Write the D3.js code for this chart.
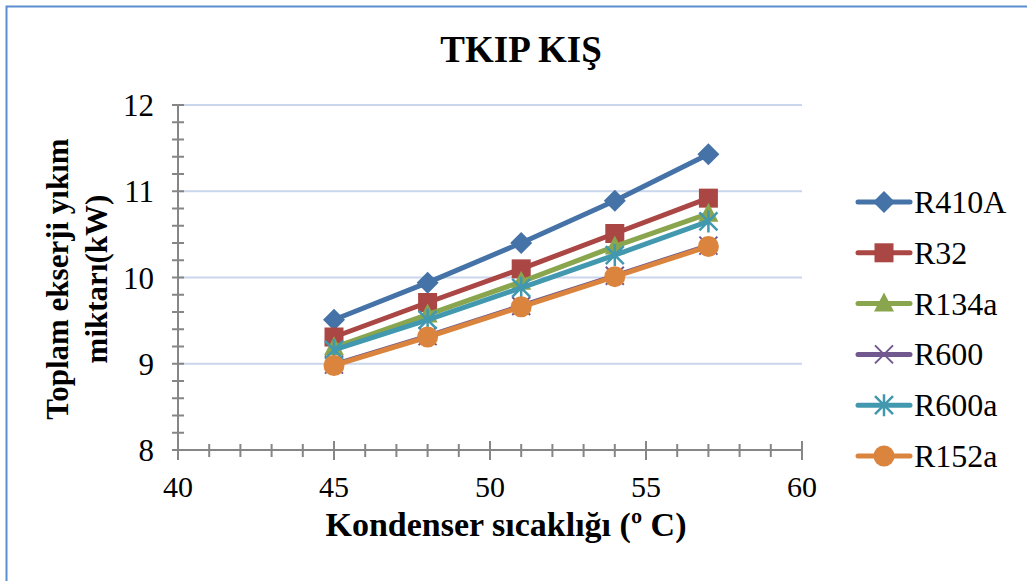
<!DOCTYPE html>
<html>
<head>
<meta charset="utf-8">
<script src="https://cdn.jsdelivr.net/npm/d3@7.9.0/dist/d3.min.js"></script>
<style>
  body { margin: 0; background: #fff; }
  svg { display: block; font-family: "Liberation Serif", "Times New Roman", serif; }
</style>
</head>
<body>
<svg id="chart" width="1027" height="581"></svg>
<script>
const temps = [45, 48, 51, 54, 57];
const seriesNames = ["R410A", "R32", "R134a", "R600", "R600a", "R152a"];
const r410a = [9.51, 9.94, 10.40, 10.89, 11.43];
const r32 = [9.31, 9.71, 10.10, 10.51, 10.92];
const r134a = [9.19, 9.57, 9.95, 10.36, 10.74];
const r600 = [8.99, 9.32, 9.67, 10.02, 10.37];
const r600a = [9.16, 9.51, 9.88, 10.26, 10.65];
const r152a = [8.98, 9.31, 9.66, 10.01, 10.36];
const xTicks = [40, 45, 50, 55, 60];
const yTicks = [8, 9, 10, 11, 12];

const values = [r410a, r32, r134a, r600, r600a, r152a];
const colors = ["#4572A7", "#AA4643", "#89A54E", "#71588F", "#4198AF", "#DB843D"];
const markers = ["diamond", "square", "triangle", "x", "star", "circle"];

const svg = d3.select("#chart");
const area = { left: 178, right: 802, top: 105, bottom: 450 };

const x = d3.scaleLinear().domain([40, 60]).range([area.left, area.right]);
const y = d3.scaleLinear().domain([8, 12]).range([area.bottom, area.top]);

// outer frame
svg.append("rect")
  .attr("x", 6.5).attr("y", 6.5)
  .attr("width", 1040).attr("height", 600)
  .attr("fill", "none")
  .attr("stroke", "#5b8ed0")
  .attr("stroke-width", 2);

// title
svg.append("text")
  .attr("x", 521).attr("y", 62)
  .attr("text-anchor", "middle")
  .style("font-size", "37px").style("font-weight", "bold")
  .text("TKIP KIŞ");

// gridlines
svg.append("g")
  .selectAll("line")
  .data(yTicks.filter((d) => d > 8))
  .join("line")
  .attr("x1", area.left).attr("x2", area.right)
  .attr("y1", (d) => y(d)).attr("y2", (d) => y(d))
  .attr("stroke", "#c9d6ec").attr("stroke-width", 2);

// y axis with cross ticks
const yMinor = d3.range(8, 12.0001, 0.2);
const yAxis = svg.append("g").attr("stroke", "#868686").attr("stroke-width", 2);
yAxis.append("line")
  .attr("x1", area.left).attr("x2", area.left)
  .attr("y1", area.top).attr("y2", area.bottom);
yAxis.selectAll(".tk")
  .data(yMinor)
  .join("line")
  .attr("class", "tk")
  .attr("x1", area.left - 6).attr("x2", area.left + 6)
  .attr("y1", (d) => y(d)).attr("y2", (d) => y(d));

// x axis with cross ticks
const xMinor = d3.range(40, 60.0001, 1);
const xAxis = svg.append("g").attr("stroke", "#868686").attr("stroke-width", 2);
xAxis.append("line")
  .attr("x1", area.left).attr("x2", area.right)
  .attr("y1", area.bottom).attr("y2", area.bottom);
xAxis.selectAll(".tk")
  .data(xMinor)
  .join("line")
  .attr("class", "tk")
  .attr("x1", (d) => x(d)).attr("x2", (d) => x(d))
  .attr("y1", (d) => area.bottom - (d % 5 === 0 ? 9 : 6))
  .attr("y2", (d) => area.bottom + (d % 5 === 0 ? 10 : 7));

// tick labels
svg.append("g")
  .selectAll("text")
  .data(yTicks)
  .join("text")
  .attr("x", 154).attr("y", (d) => y(d) + 11)
  .attr("text-anchor", "end")
  .style("font-size", "31px")
  .text((d) => d);

svg.append("g")
  .selectAll("text")
  .data(xTicks)
  .join("text")
  .attr("x", (d) => x(d)).attr("y", 497)
  .attr("text-anchor", "middle")
  .style("font-size", "30px")
  .text((d) => d);

// axis titles
svg.append("text")
  .attr("x", 506).attr("y", 536)
  .attr("text-anchor", "middle")
  .style("font-size", "34px").style("font-weight", "bold")
  .text("Kondenser sıcaklığı (º C)");

const yTitle = svg.append("text")
  .attr("transform", "translate(0,279) rotate(-90)")
  .attr("text-anchor", "middle")
  .style("font-size", "31px").style("font-weight", "bold");
yTitle.append("tspan").attr("x", 0).attr("y", 68).text("Toplam ekserji yıkım");
yTitle.append("tspan").attr("x", 0).attr("y", 107).text("miktarı(kW)");

// markers
function drawMarker(g, type, color) {
  if (type === "diamond") {
    g.append("path").attr("d", "M0,-11L11,0L0,11L-11,0Z").attr("fill", color);
  } else if (type === "square") {
    g.append("rect").attr("x", -9.5).attr("y", -9.5).attr("width", 19).attr("height", 19).attr("fill", color);
  } else if (type === "triangle") {
    g.append("path").attr("d", "M0,-11L10,8L-10,8Z").attr("fill", color);
  } else if (type === "x") {
    g.append("path").attr("d", "M-9,-9L9,9M9,-9L-9,9").attr("stroke", color).attr("stroke-width", 2);
  } else if (type === "star") {
    g.append("path").attr("d", "M-9,-9L9,9M9,-9L-9,9M0,-11L0,11").attr("stroke", color).attr("stroke-width", 2.5);
  } else if (type === "circle") {
    g.append("circle").attr("r", 10.5).attr("fill", color);
  }
}

const line = d3.line().x((d) => x(d[0])).y((d) => y(d[1]));

values.forEach((vals, i) => {
  const pts = temps.map((t, j) => [t, vals[j]]);
  const g = svg.append("g").attr("class", "series");
  g.append("path")
    .attr("d", line(pts))
    .attr("fill", "none")
    .attr("stroke", colors[i])
    .attr("stroke-width", 5)
    .attr("stroke-linejoin", "round");
  pts.forEach((p) => {
    const m = g.append("g").attr("transform", `translate(${x(p[0])},${y(p[1])})`);
    drawMarker(m, markers[i], colors[i]);
  });
});

// legend
const legend = svg.append("g");
seriesNames.forEach((name, i) => {
  const ly = 202 + i * 50.8;
  const lg = legend.append("g");
  lg.append("line")
    .attr("x1", 858).attr("x2", 910)
    .attr("y1", ly).attr("y2", ly)
    .attr("stroke", colors[i]).attr("stroke-width", 5)
    .attr("stroke-linecap", "round");
  const m = lg.append("g").attr("transform", `translate(884,${ly})`);
  drawMarker(m, markers[i], colors[i]);
  lg.append("text")
    .attr("x", 914).attr("y", ly + 11)
    .style("font-size", "32px")
    .text(name);
});
</script>
</body>
</html>
